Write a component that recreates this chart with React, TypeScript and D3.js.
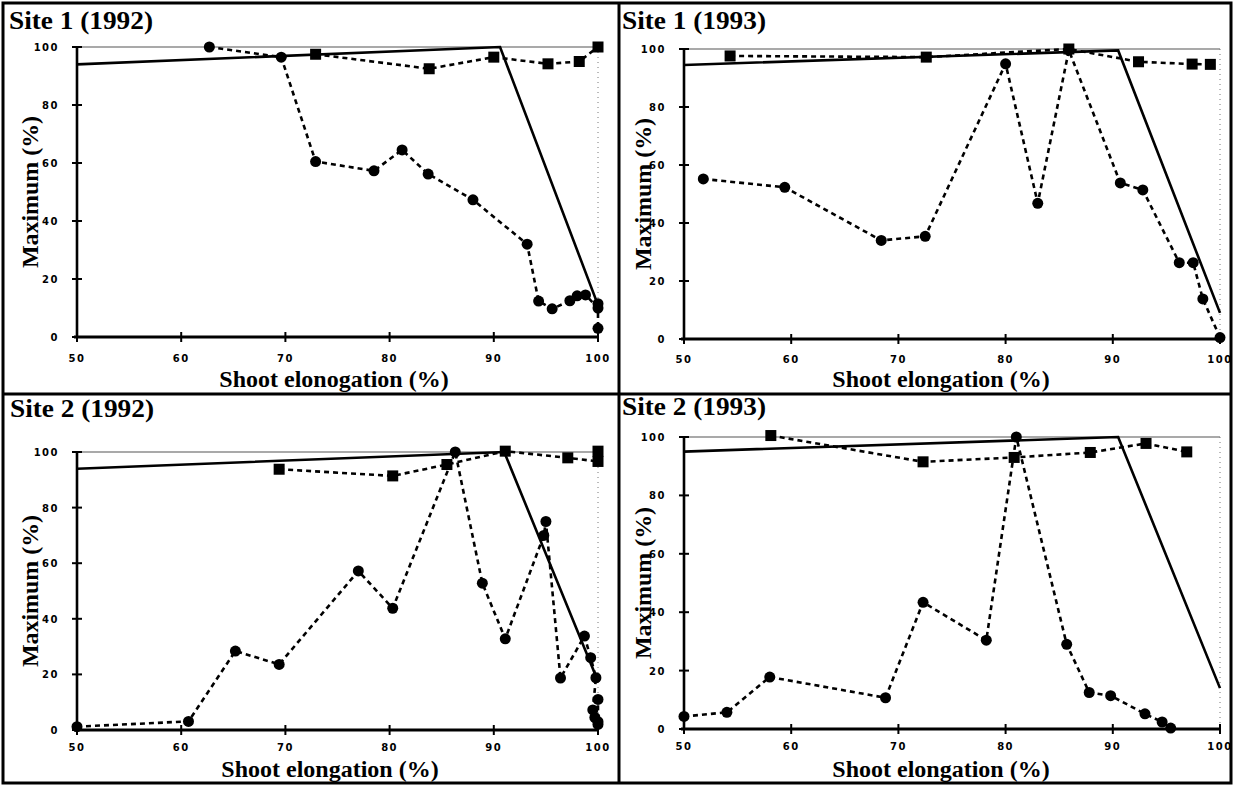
import * as d3 from "d3";

type Pt = [number, number];

const xTicks = [50, 60, 70, 80, 90, 100];
const yTicks = [0, 20, 40, 60, 80, 100];

const titles = ["Site 1 (1992)", "Site 1 (1993)", "Site 2 (1992)", "Site 2 (1993)"];
const xLabels = ["Shoot elonogation (%)", "Shoot elongation (%)", "Shoot elongation (%)", "Shoot elongation (%)"];
const yLabel = "Maximum (%)";

// solid reference line, squares (dashed), circles (dashed)
const s1y92Solid: Pt[] = [[50, 94], [90.6, 100], [100, 11]];
const s1y92Squares: Pt[] = [[72.9, 97.5], [83.8, 92.5], [90, 96.5], [95.2, 94.2], [98.2, 95], [100, 100]];
const s1y92Circles: Pt[] = [
  [62.7, 100], [69.6, 96.5], [72.9, 60.5], [78.5, 57.3], [81.2, 64.5], [83.7, 56.2], [88, 47.3],
  [93.2, 32], [94.3, 12.4], [95.6, 9.7], [97.3, 12.5], [98, 14.2], [98.8, 14.5], [100, 10], [100, 11.5], [100, 3],
];

const s1y93Solid: Pt[] = [[50, 94.5], [90.5, 99.5], [100, 9]];
const s1y93Squares: Pt[] = [[54.3, 97.6], [72.6, 97.2], [85.9, 100], [92.4, 95.6], [97.4, 94.8], [99.1, 94.7]];
const s1y93Circles: Pt[] = [
  [51.8, 55.2], [59.4, 52.3], [68.4, 34], [72.5, 35.4], [80, 94.9], [83, 46.8], [85.9, 99.6],
  [90.7, 53.8], [92.8, 51.4], [96.2, 26.3], [97.5, 26.3], [98.4, 13.8], [100, 0.5],
];

const s2y92Solid: Pt[] = [[50, 94], [91, 100], [100, 17.5]];
const s2y92Squares: Pt[] = [[69.4, 93.8], [80.3, 91.4], [85.5, 95.5], [91.1, 100.3], [97.1, 97.9], [100, 96.6], [100, 100.3]];
const s2y92Circles: Pt[] = [
  [50, 1.2], [60.7, 3.1], [65.2, 28.4], [69.4, 23.6], [77, 57.2], [80.3, 43.8], [86.3, 100],
  [88.9, 52.8], [91.1, 32.8], [94.8, 70], [95, 75], [96.4, 18.7], [98.7, 33.8], [99.3, 26],
  [99.8, 18.8], [99.5, 7.2], [99.7, 4.5], [100, 11], [100, 3], [100, 2],
];

const s2y93Solid: Pt[] = [[50, 95], [90.5, 100], [100, 14]];
const s2y93Squares: Pt[] = [[58.1, 100.5], [72.3, 91.5], [80.8, 93], [87.9, 94.7], [93.1, 97.8], [96.9, 94.9]];
const s2y93Circles: Pt[] = [
  [50, 4.3], [54, 5.7], [58, 17.8], [68.8, 10.7], [72.3, 43.4], [78.2, 30.4], [81, 100],
  [85.7, 29], [87.8, 12.5], [89.8, 11.4], [93, 5.2], [94.6, 2.4], [95.4, 0.3],
];

const solids = [s1y92Solid, s1y93Solid, s2y92Solid, s2y93Solid];
const squares = [s1y92Squares, s1y93Squares, s2y92Squares, s2y93Squares];
const circles = [s1y92Circles, s1y93Circles, s2y92Circles, s2y93Circles];

// panel geometry: axis ends, title, axis-title positions
const frames = [
  { x0: 77, x1: 598, yT: 47, yB: 337, tx: 9, ty: 29, xl: 334, yl: 38, lb: 387, tk: 25 },
  { x0: 684, x1: 1220, yT: 49, yB: 339, tx: 622, ty: 29, xl: 941, yl: 651, lb: 387, tk: 24 },
  { x0: 77, x1: 598, yT: 452, yB: 730, tx: 10, ty: 417, xl: 330, yl: 38, lb: 777, tk: 21 },
  { x0: 684, x1: 1220, yT: 437, yB: 729, tx: 622, ty: 415, xl: 941, yl: 651, lb: 777, tk: 21 },
];

const serif = "'Liberation Serif', 'Times New Roman', serif";
const sans = "'DejaVu Sans', 'Liberation Sans', sans-serif";

function Panel({ i }: { i: number }) {
  const f = frames[i];
  const x = d3.scaleLinear().domain([50, 100]).range([f.x0, f.x1]);
  const y = d3.scaleLinear().domain([0, 100]).range([f.yB, f.yT]);
  const line = d3.line<Pt>().x((d) => x(d[0])).y((d) => y(d[1]));

  return (
    <g>
      <text x={f.tx} y={f.ty} fontFamily={serif} fontWeight="bold" fontSize={25} textLength={144} lengthAdjust="spacingAndGlyphs">
        {titles[i]}
      </text>

      {/* thin reference lines at 100 */}
      <line x1={x(50)} x2={x(100)} y1={y(100)} y2={y(100)} stroke="#555" strokeWidth={1.2} />
      <line x1={x(100)} x2={x(100)} y1={y(100)} y2={y(0)} stroke="#777" strokeWidth={1} strokeDasharray="1 4" />

      {/* axes */}
      <line x1={f.x0} x2={f.x0} y1={y(0)} y2={y(100)} stroke="#000" strokeWidth={2.6} />
      <line x1={f.x0 - 3} x2={f.x1} y1={y(0)} y2={y(0)} stroke="#000" strokeWidth={3} />
      {yTicks.map((t) => (
        <g key={"y" + t}>
          <line x1={f.x0 - 5} x2={f.x0 + 5} y1={y(t)} y2={y(t)} stroke="#000" strokeWidth={2} />
          <text x={f.x0 - 18} y={y(t) + 4} textAnchor="end" fontFamily={sans} fontWeight="bold" fontSize={10} letterSpacing={1.5}>
            {t}
          </text>
        </g>
      ))}
      {xTicks.map((t) => (
        <g key={"x" + t}>
          <line x1={x(t)} x2={x(t)} y1={y(0) - 5} y2={y(0) + 5} stroke="#000" strokeWidth={2} />
          <text x={x(t)} y={y(0) + f.tk} textAnchor="middle" fontFamily={sans} fontWeight="bold" fontSize={10} letterSpacing={1.5}>
            {t}
          </text>
        </g>
      ))}

      <text
        transform={`translate(${f.yl},${(f.yT + f.yB) / 2}) rotate(-90)`}
        textAnchor="middle"
        fontFamily={serif}
        fontWeight="bold"
        fontSize={24}
        textLength={152}
        lengthAdjust="spacingAndGlyphs"
      >
        {yLabel}
      </text>
      <text x={f.xl} y={f.lb} textAnchor="middle" fontFamily={serif} fontWeight="bold" fontSize={24}>
        {xLabels[i]}
      </text>

      {/* series */}
      <path d={line(solids[i]) ?? ""} fill="none" stroke="#000" strokeWidth={2.6} />
      <path d={line(squares[i]) ?? ""} fill="none" stroke="#000" strokeWidth={2.6} strokeDasharray="5 4" />
      <path d={line(circles[i]) ?? ""} fill="none" stroke="#000" strokeWidth={2.6} strokeDasharray="5 4" />
      {squares[i].map((d, k) => (
        <rect key={"s" + k} x={x(d[0]) - 5.5} y={y(d[1]) - 5.5} width={11} height={11} fill="#000" />
      ))}
      {circles[i].map((d, k) => (
        <circle key={"c" + k} cx={x(d[0])} cy={y(d[1])} r={5.5} fill="#000" />
      ))}
    </g>
  );
}

export default function App() {
  return (
    <svg width={1234} height={786} style={{ position: "absolute", left: 0, top: 0, background: "#fff" }}>
      <rect x={3} y={3} width={1228} height={780} fill="#fff" stroke="#000" strokeWidth={3} />
      <line x1={619} x2={619} y1={3} y2={783} stroke="#000" strokeWidth={3} />
      <line x1={3} x2={1231} y1={394} y2={394} stroke="#000" strokeWidth={3} />
      {[0, 1, 2, 3].map((i) => (
        <Panel key={i} i={i} />
      ))}
    </svg>
  );
}
